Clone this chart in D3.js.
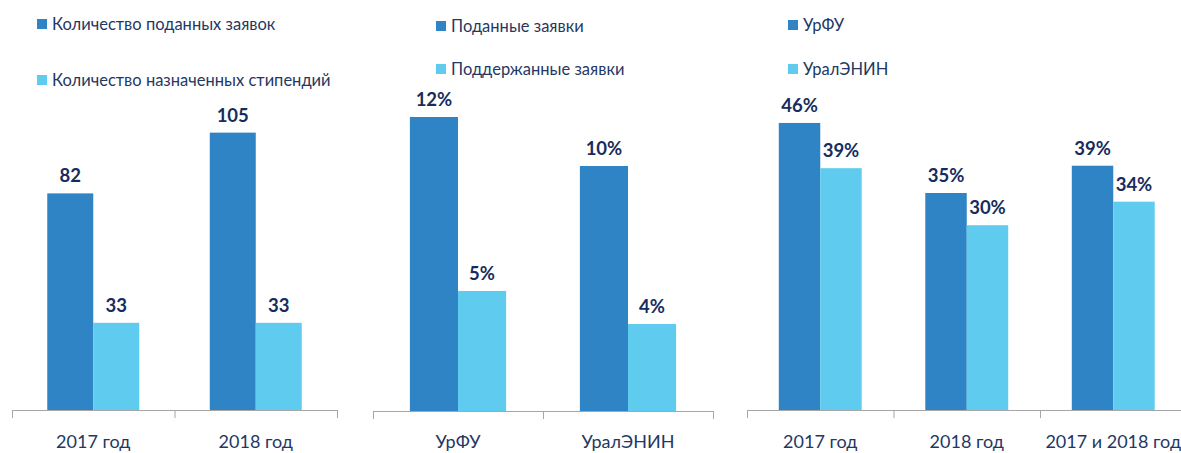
<!DOCTYPE html>
<html>
<head>
<meta charset="utf-8">
<script src="https://cdn.jsdelivr.net/npm/d3@7"></script>
<style>
  body { margin: 0; background: #fff; }
  svg { display: block; font-family: Lato, "Open Sans", sans-serif; }
</style>
</head>
<body>
<div id="chart"></div>
<script>
// Panel 1: applications vs scholarships (counts)
var cats1 = ["2017 год", "2018 год"];
var filed1 = [82, 105];
var awarded1 = [33, 33];
var legend1 = ["Количество поданных заявок", "Количество назначенных стипендий"];

// Panel 2: filed vs supported applications (%)
var cats2 = ["УрФУ", "УралЭНИН"];
var filed2 = [12, 10];
var supported2 = [4.9, 3.55];
var legend2 = ["Поданные заявки", "Поддержанные заявки"];

// Panel 3: УрФУ vs УралЭНИН (%)
var cats3 = ["2017 год", "2018 год", "2017 и 2018 год"];
var urfu3 = [46.3, 35.0, 39.4];
var uralenin3 = [39.0, 29.8, 33.6];
var legend3 = ["УрФУ", "УралЭНИН"];

var colors = ["#2e84c4", "#5fcbef"];

var width = 1181, height = 453;

var svg = d3.select("#chart").append("svg")
    .attr("width", width)
    .attr("height", height);

var panels = [
    {cats: cats1, series: [filed1, awarded1], legend: legend1, fmt: d => d3.format("d")(d),
     x0: 12, x1: 337, base: 410, top: 93, ymax: 120, lx: 37, ly: [19, 75]},
    {cats: cats2, series: [filed2, supported2], legend: legend2, fmt: d => Math.round(d) + "%",
     x0: 373, x1: 713, base: 411, top: 92.5, ymax: 13, lx: 436, ly: [21, 64]},
    {cats: cats3, series: [urfu3, uralenin3], legend: legend3, fmt: d => Math.round(d) + "%",
     x0: 747, x1: 1186.5, base: 410, top: 100, ymax: 50, lx: 788, ly: [20, 64]}
];

panels.forEach(function(p) {
    var g = svg.append("g");

    var x = d3.scaleBand()
        .domain(p.cats)
        .range([p.x0, p.x1])
        .paddingInner(0.434)
        .paddingOuter(0.217);

    var xs = d3.scaleBand()
        .domain(d3.range(p.series.length))
        .range([0, x.bandwidth()])
        .padding(0);

    var y = d3.scaleLinear()
        .domain([0, p.ymax])
        .range([p.base, p.top]);

    // boundary ticks between categories
    var edge = d3.scaleLinear()
        .domain([0, p.cats.length])
        .range([p.x0, p.x1]);

    var axis = g.append("g")
        .attr("transform", "translate(0," + p.base + ")")
        .call(d3.axisBottom(edge)
            .tickValues(d3.range(p.cats.length + 1))
            .tickFormat("")
            .tickSize(8)
            .tickSizeOuter(0));
    axis.select("path.domain").attr("stroke", "#a6a6a6");
    axis.selectAll(".tick line").attr("stroke", "#a6a6a6");

    // category labels
    g.selectAll(".cat")
        .data(p.cats)
        .enter().append("text")
        .attr("class", "cat")
        .attr("x", d => x(d) + x.bandwidth() / 2)
        .attr("y", 448)
        .attr("text-anchor", "middle")
        .attr("fill", "#1f3864")
        .style("font-size", "18px")
        .text(d => d);

    var rows = [];
    p.cats.forEach(function(c, i) {
        p.series.forEach(function(s, k) {
            rows.push({cat: c, k: k, v: s[i]});
        });
    });

    g.selectAll(".bar")
        .data(rows)
        .enter().append("rect")
        .attr("class", "bar")
        .attr("x", d => x(d.cat) + xs(d.k))
        .attr("width", xs.bandwidth())
        .attr("y", d => y(d.v))
        .attr("height", d => p.base - y(d.v))
        .attr("fill", d => colors[d.k]);

    g.selectAll(".label")
        .data(rows)
        .enter().append("text")
        .attr("class", "label")
        .attr("x", d => x(d.cat) + xs(d.k) + xs.bandwidth() / 2)
        .attr("y", d => y(d.v) - 11)
        .attr("text-anchor", "middle")
        .attr("fill", "#172c5c")
        .style("font-size", "18.5px")
        .style("font-weight", "bold")
        .text(d => p.fmt(d.v));

    // legend
    var leg = g.selectAll(".leg")
        .data(p.legend)
        .enter().append("g")
        .attr("class", "leg")
        .attr("transform", (d, i) => "translate(" + p.lx + "," + p.ly[i] + ")");

    leg.append("rect")
        .attr("width", 10)
        .attr("height", 10)
        .attr("fill", (d, i) => colors[i]);

    leg.append("text")
        .attr("x", 15)
        .attr("y", 10.5)
        .attr("fill", "#1f3864")
        .style("font-size", "16.5px")
        .text(d => d);
});
</script>
</body>
</html>
